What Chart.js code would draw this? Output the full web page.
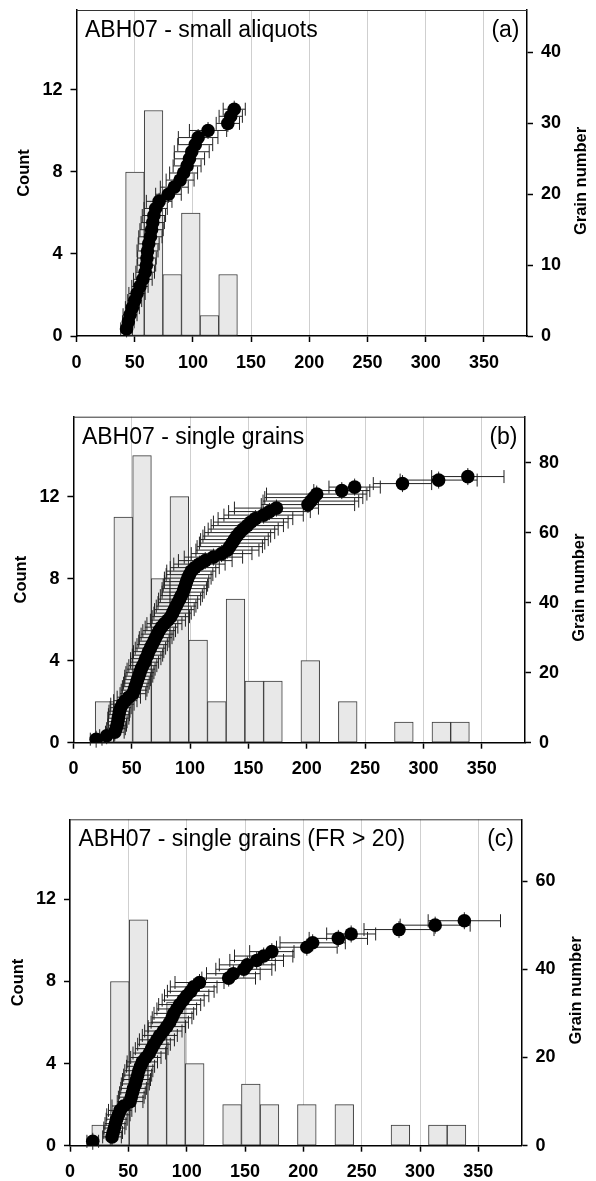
<!DOCTYPE html>
<html>
<head>
<meta charset="utf-8">
<script src="https://cdn.jsdelivr.net/npm/chart.js@4.4.0/dist/chart.umd.min.js"></script>
<style>
html,body{margin:0;padding:0;background:#fff;}
body{width:596px;height:1181px;position:relative;overflow:hidden;}
canvas{position:absolute;left:0;}
</style>
</head>
<body>
<canvas id="cA" width="596" height="385" style="top:0px"></canvas>
<canvas id="cB" width="596" height="400" style="top:385px"></canvas>
<canvas id="cC" width="596" height="396" style="top:785px"></canvas>
<script>
// ---------------- DATA ----------------
const panelTitles = ['ABH07 - small aliquots', 'ABH07 - single grains', 'ABH07 - single grains (FR > 20)'];
const panelLetters = ['(a)', '(b)', '(c)'];
const yLeftTitle = 'Count';
const yRightTitle = 'Grain number';

const xTickStep = 50;      // x ticks 0..350
const countTickStep = 4;   // left ticks 0..12
const grainTickStepA = 10; // right ticks (a)
const grainTickStepBC = 20;

// histogram bins (bin centres, equivalent dose) and counts
const binCentersA = [50.2, 66.2, 82.2, 98.2, 114.2, 130.2];
const countsA = [8, 11, 3, 6, 1, 3];

const binCentersBC = [26.7, 42.7, 58.8, 74.8, 90.8, 106.9, 122.9, 138.9, 155.0, 171.0,
                      187.0, 203.0, 219.1, 235.1, 251.1, 267.2, 283.2, 299.2, 315.3, 331.3];
const countsB = [2, 11, 14, 8, 12, 5, 2, 7, 3, 3, 0, 4, 0, 2, 0, 0, 1, 0, 1, 1];
const countsC = [1, 8, 11, 6, 7, 4, 0, 2, 3, 2, 0, 2, 0, 2, 0, 0, 1, 0, 1, 1];

// ranked values (grain number = rank) and their errors
const agesA = [43, 44.5, 46, 48, 50, 52, 54.5, 57,
               59, 60, 60.5, 61, 62, 63.5, 64.5, 65.5, 66.5, 68, 71,
               79, 84, 89,
               92, 95, 97, 99, 102, 104.5,
               113,
               130, 132.5, 135.5];
const errA  = [5, 5, 6, 6, 6, 7, 7, 8,
               8, 8, 8, 9, 9, 10, 10, 10, 10, 10, 11,
               11, 12, 12,
               12, 12, 13, 15, 15, 17,
               16,
               10, 10, 9.5];

const agesB = [19.5, 28.5,
               35.5, 36.5, 37.5, 38, 38.5, 39, 39.5, 40.5, 42, 44.5, 47.5,
               51, 52, 53, 54, 55, 56, 57, 58, 59.5, 61, 62, 63.5, 64.5, 66,
               67.5, 69, 70.5, 72, 73.5, 75.5, 78, 81,
               83.5, 85, 86.5, 88, 89.5, 91, 92.5, 94, 95, 96, 97, 98,
               99.5, 101, 104, 108, 113,
               120, 127,
               132, 134, 136, 138, 140, 142.5, 145.5,
               149, 152, 156,
               163, 168, 174,
               201, 203.5, 206, 208.5,
               230, 241,
               282, 313, 338];
const errB  = [5, 6,
               8, 8, 8, 8, 9, 9, 9, 9, 10, 10, 10,
               11, 11, 11, 11, 11, 12, 12, 12, 12, 12, 13, 13, 13, 13,
               13, 13, 14, 14, 14, 14, 15, 15,
               16, 16, 17, 17, 17, 18, 18, 18, 19, 19, 19, 20,
               20, 21, 21, 22, 23,
               25, 26,
               27, 28, 28, 29, 29, 30, 30,
               31, 32, 32,
               34, 35, 36,
               40, 41, 42, 43,
               24, 22,
               25, 33, 31];

const agesC = [19.5,
               36, 37, 38, 39, 40, 41.5, 43, 46,
               51.5, 52.5, 53.5, 54.5, 56, 57, 58, 59, 60.5, 62, 65,
               68, 70, 72, 74.5, 77, 80,
               83, 85.5, 87.5, 89, 91.5, 94, 97,
               100, 103.5, 106, 111,
               136, 140,
               149, 152, 160,
               166, 173,
               203, 208,
               230, 241,
               282, 313, 338];
const errC  = [5,
               8, 8, 9, 9, 9, 10, 10, 10,
               11, 11, 11, 11, 12, 12, 12, 12, 12, 13, 13,
               14, 14, 14, 15, 15, 16,
               16, 16, 17, 17, 17, 18, 18,
               19, 20, 20, 21,
               23, 23,
               24, 24, 23,
               25, 19,
               26, 28,
               25, 21,
               30, 30, 31];

// ---------------- LAYOUT (pixels) ----------------
const FONT = "'Liberation Sans', Arial, Helvetica, sans-serif";
const panels = [
  {id: 'cA', h: 385, left: 76.5, right: 527,   top: 10,   bottom: 336,   xMax: 387, countMax: 15.9, grainMax: 46,   grainStep: grainTickStepA,
   bins: binCentersA, counts: countsA, ages: agesA, err: errA, title: panelTitles[0], letter: panelLetters[0]},
  {id: 'cB', h: 400, left: 73.4, right: 525,   top: 31.7, bottom: 357.7, xMax: 387, countMax: 15.9, grainMax: 93.1, grainStep: grainTickStepBC,
   bins: binCentersBC, counts: countsB, ages: agesB, err: errB, title: panelTitles[1], letter: panelLetters[1]},
  {id: 'cC', h: 396, left: 70,   right: 521.5, top: 34.3, bottom: 360.7, xMax: 387, countMax: 15.9, grainMax: 74,   grainStep: grainTickStepBC,
   bins: binCentersBC, counts: countsC, ages: agesC, err: errC, title: panelTitles[2], letter: panelLetters[2]}
];

// error bars drawn under the markers
const errorBarPlugin = {
  id: 'errbars',
  beforeDatasetDraw(chart, args) {
    const ds = chart.data.datasets[args.index];
    if (!ds.xErr) return;
    const xs = chart.scales.x, ys = chart.scales.yGrain, ctx = chart.ctx;
    ctx.save();
    ctx.strokeStyle = '#222';
    ctx.lineWidth = 1;
    ds.data.forEach((p, i) => {
      const e = ds.xErr[i];
      const x0 = xs.getPixelForValue(p.x - e), x1 = xs.getPixelForValue(p.x + e);
      const xc = xs.getPixelForValue(p.x), y = ys.getPixelForValue(p.y);
      ctx.beginPath();
      ctx.moveTo(x0, y); ctx.lineTo(x1, y);
      ctx.moveTo(x0, y - 6.5); ctx.lineTo(x0, y + 6.5);
      ctx.moveTo(x1, y - 6.5); ctx.lineTo(x1, y + 6.5);
      ctx.moveTo(xc, y - 8.5); ctx.lineTo(xc, y + 8.5);
      ctx.stroke();
    });
    ctx.restore();
  }
};

// frame top line, panel title, letter, right axis title
const decorPlugin = {
  id: 'decor',
  beforeDatasetsDraw(chart) {
    const a = chart.chartArea, ctx = chart.ctx;
    ctx.save();
    ctx.strokeStyle = '#333';
    ctx.lineWidth = 1;
    ctx.beginPath();
    ctx.moveTo(a.left, a.top + 0.5); ctx.lineTo(a.right, a.top + 0.5);
    ctx.stroke();
    ctx.restore();
  },
  afterDraw(chart, args, opts) {
    const a = chart.chartArea, ctx = chart.ctx;
    ctx.save();
    ctx.fillStyle = '#000';
    ctx.font = '23px ' + FONT;
    ctx.textBaseline = 'alphabetic';
    ctx.textAlign = 'left';
    ctx.fillText(opts.title, a.left + 8.5, a.top + 27);
    ctx.textAlign = 'right';
    ctx.fillText(opts.letter, a.right - 7.5, a.top + 27);
    ctx.font = 'bold 16.5px ' + FONT;
    ctx.translate(a.right + 54.5, (a.top + a.bottom) / 2 + 8);
    ctx.rotate(-Math.PI / 2);
    ctx.textAlign = 'center';
    ctx.textBaseline = 'middle';
    ctx.fillText(yRightTitle, 0, 0);
    ctx.restore();
  }
};

const tickFont = {family: FONT, size: 18, weight: 'bold'};

panels.forEach(P => {
  const W = 596;
  new Chart(document.getElementById(P.id), {
    type: 'bar',
    data: {
      datasets: [
        {
          type: 'scatter',
          label: 'grains',
          order: 0,
          yAxisID: 'yGrain',
          xAxisID: 'x',
          data: P.ages.map((v, i) => ({x: v, y: i + 1})),
          xErr: P.err,
          pointRadius: 6.8,
          pointBackgroundColor: '#000',
          pointBorderColor: '#000',
          pointBorderWidth: 0,
          showLine: false
        },
        {
          type: 'bar',
          label: 'count',
          order: 1,
          yAxisID: 'yCount',
          xAxisID: 'x',
          data: P.bins.map((c, i) => ({x: c, y: P.counts[i]})),
          backgroundColor: '#e8e8e8',
          borderColor: '#3a3a3a',
          borderWidth: 1,
          borderSkipped: false,
          barPercentage: 1,
          categoryPercentage: 1
        }
      ]
    },
    options: {
      responsive: false,
      animation: false,
      events: [],
      layout: {padding: {top: P.top, left: 0, right: 0, bottom: 0}},
      plugins: {
        legend: {display: false},
        tooltip: {enabled: false},
        decor: {title: P.title, letter: P.letter}
      },
      scales: {
        x: {
          type: 'linear',
          position: 'bottom',
          min: 0, max: P.xMax,
          offset: false,
          grid: {offset: false, color: '#cfcfcf', lineWidth: 1, drawTicks: true, tickLength: 6, tickColor: '#000', tickWidth: 1.5},
          border: {display: true, color: '#000', width: 1.5},
          ticks: {stepSize: xTickStep, includeBounds: false, padding: 10, color: '#000', font: tickFont, maxRotation: 0, autoSkip: false},
          afterFit(s) { s.height = P.h - P.bottom; s.paddingLeft = 0; s.paddingRight = 0; }
        },
        yCount: {
          type: 'linear',
          position: 'left',
          min: 0, max: P.countMax,
          grid: {drawOnChartArea: false, drawTicks: true, tickLength: 6, tickColor: '#000', tickWidth: 1.5},
          border: {display: true, color: '#000', width: 1.5},
          ticks: {stepSize: countTickStep, includeBounds: false, padding: 8, color: '#000', font: tickFont},
          title: {display: true, text: yLeftTitle, color: '#000', font: {family: FONT, size: 16.5, weight: 'bold'},
                  padding: {top: P.left - 52 - 9.9, bottom: 0}},
          afterFit(s) { s.width = P.left; s.paddingTop = 0; s.paddingBottom = 0; }
        },
        yGrain: {
          type: 'linear',
          position: 'right',
          min: 0, max: P.grainMax,
          grid: {drawOnChartArea: false, drawTicks: true, tickLength: 6, tickColor: '#000', tickWidth: 1.5},
          border: {display: true, color: '#000', width: 1.5},
          ticks: {stepSize: P.grainStep, includeBounds: false, padding: 8, color: '#000', font: tickFont},
          afterFit(s) { s.width = W - P.right; s.paddingTop = 0; s.paddingBottom = 0; }
        }
      }
    },
    plugins: [errorBarPlugin, decorPlugin]
  });
});
</script>
</body>
</html>
